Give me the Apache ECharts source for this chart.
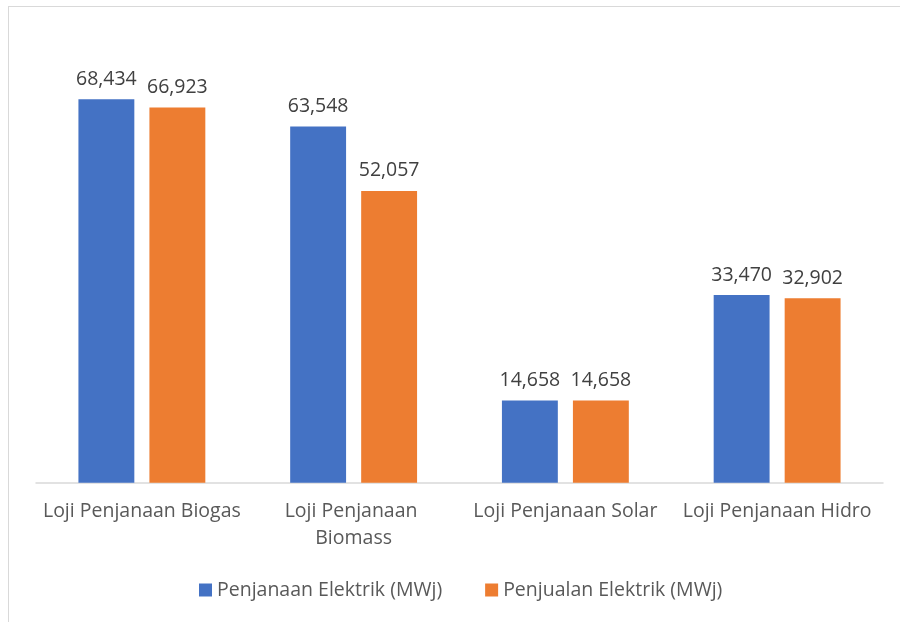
<!DOCTYPE html>
<html>
<head>
<meta charset="utf-8">
<script src="https://cdn.jsdelivr.net/npm/echarts@6/dist/echarts.min.js"></script>
<style>
html,body{margin:0;padding:0;background:#fff;}
#wrap{position:relative;width:900px;height:622px;overflow:hidden;}
#frame{position:absolute;left:8px;top:6px;width:1000px;height:1000px;border-left:1.5px solid #d9d9d9;border-top:1.5px solid #d9d9d9;}
#chart{position:absolute;left:0;top:0;width:900px;height:622px;}
</style>
</head>
<body>
<div id="wrap"><div id="frame"></div><div id="chart"></div></div>
<script>
const categories = ['Loji Penjanaan Biogas', 'Loji Penjanaan Biomass', 'Loji Penjanaan Solar', 'Loji Penjanaan Hidro'];
const penjanaan = [68434, 63548, 14658, 33470];
const penjualan = [66923, 52057, 14658, 32902];
const seriesNames = ['Penjanaan Elektrik (MWj)', 'Penjualan Elektrik (MWj)'];

const FONT = '"Open Sans", "Noto Sans", sans-serif';
const FS = 19.5;
const chart = echarts.init(document.getElementById('chart'), null, {renderer: 'canvas'});
const labelCfg = {
  show: true, position: 'top', distance: 10,
  color: '#404040', fontSize: FS, fontFamily: FONT,
  formatter: p => p.value.toLocaleString('en-US')
};
chart.setOption({
  animation: false,
  grid: {left: 36, right: 17, top: 34.3, bottom: 139.3, containLabel: false},
  legend: {
    data: seriesNames, bottom: 17, left: 194,
    itemWidth: 13, itemHeight: 13, itemGap: 43, icon: 'rect',
    textStyle: {color: '#595959', fontSize: FS, fontFamily: FONT, padding: [0, 0, 0, 0]}
  },
  xAxis: {
    type: 'category', data: categories,
    axisLine: {lineStyle: {color: '#d9d9d9', width: 1.5}},
    axisTick: {show: false},
    axisLabel: {
      interval: 0, color: '#595959', fontSize: FS, fontFamily: FONT,
      margin: 15, width: 205, overflow: 'break', lineHeight: 27
    }
  },
  yAxis: {
    type: 'value', min: 0, max: 80000, interval: 10000,
    show: false, splitLine: {show: false}
  },
  series: [
    {name: seriesNames[0], type: 'bar', data: penjanaan, itemStyle: {color: '#4472C4'},
     barWidth: '26.4%', barGap: '27%', label: labelCfg},
    {name: seriesNames[1], type: 'bar', data: penjualan, itemStyle: {color: '#ED7D31'},
     barWidth: '26.4%', barGap: '27%', label: labelCfg}
  ]
});
</script>
</body>
</html>
